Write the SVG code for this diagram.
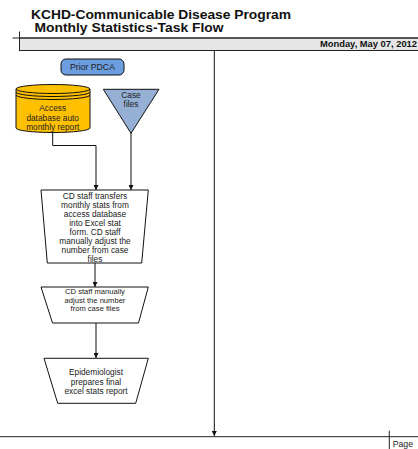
<svg xmlns="http://www.w3.org/2000/svg" width="418" height="449" viewBox="0 0 418 449">
<style>
text{font-family:"Liberation Sans",Arial,sans-serif}
.title{font-size:12.2px;font-weight:bold;fill:#111}
.lbl{font-size:8.3px;fill:#222;text-anchor:middle}
.sm{font-size:7.6px}
.shape{stroke:#111;stroke-width:1}
.conn{fill:none;stroke:#111;stroke-width:1}
.ln{stroke:#222;stroke-width:1;fill:none}
</style>
<defs>
<marker id="arr" viewBox="0 0 6 6" refX="6" refY="3" markerWidth="5" markerHeight="5" orient="auto" markerUnits="userSpaceOnUse">
<path d="M0,0 L6,3 L0,6 Z" fill="#111"/>
</marker>
</defs>
<g id="header">
<text class="title" x="31" y="19.3" textLength="260" lengthAdjust="spacingAndGlyphs">KCHD-Communicable Disease Program</text>
<text class="title" x="34.5" y="32" textLength="189" lengthAdjust="spacingAndGlyphs">Monthly Statistics-Task Flow</text>
<rect x="19.5" y="38" width="400" height="12.5" fill="#e6e6e6" stroke="#222" stroke-width="1"/>
<line class="ln" x1="12.5" y1="38" x2="418" y2="38"/>
<line class="ln" x1="19.5" y1="31.5" x2="19.5" y2="50.5"/>
<text x="320" y="46.8" style="font-size:9px;font-weight:bold;fill:#111" textLength="97" lengthAdjust="spacingAndGlyphs">Monday, May 07, 2012</text>
</g>
<g id="frame">
<line class="ln" x1="0" y1="436.7" x2="418" y2="436.7"/>
<line class="ln" x1="389.3" y1="430.7" x2="389.3" y2="449"/>
<text x="392.7" y="446.8" style="font-size:8.7px;fill:#222">Page</text>
</g>
<g id="connectors">
<path class="conn" d="M214.3,50.5 V436" marker-end="url(#arr)"/>
<path class="conn" d="M52.7,132 V145.5 H96 V190" marker-end="url(#arr)"/>
<path class="conn" d="M131,133 V190" marker-end="url(#arr)"/>
<path class="conn" d="M95,263 V287" marker-end="url(#arr)"/>
<path class="conn" d="M96,323 V358" marker-end="url(#arr)"/>
</g>
<g id="prior-pdca">
<rect class="shape" x="61" y="59" width="63" height="16" rx="5" ry="5" fill="#6b9ddf" stroke="#1f2f55"/>
<text class="lbl" x="92.5" y="69.5" style="font-size:8.7px">Prior PDCA</text>
</g>
<g id="access-db">
<path class="shape" d="M16,89 V128 A37,4.5 0 0 0 90,128 V89 A37,4.5 0 0 0 16,89 Z" fill="#ffc000"/>
<path class="shape" d="M16,89 A37,4.5 0 0 0 90,89" fill="none"/>
<path class="shape" d="M16,92 A37,4.5 0 0 0 90,92" fill="none"/>
<path class="shape" d="M16,95 A37,4.5 0 0 0 90,95" fill="none"/>
<text class="lbl" x="52.7" y="111.3">Access</text>
<text class="lbl" x="52.7" y="120.5">database auto</text>
<text class="lbl" x="52.7" y="129.5">monthly report</text>
</g>
<g id="case-files">
<polygon class="shape" points="103.3,89.3 159,89.3 131,133.3" fill="#95afd5"/>
<text class="lbl" x="131" y="98">Case</text>
<text class="lbl" x="131" y="107">files</text>
</g>
<g id="transfer">
<polygon class="shape" points="41,190 148.3,190 141.7,263 47.3,263" fill="#fff"/>
<text class="lbl" x="95" y="199">CD staff transfers</text>
<text class="lbl" x="95" y="208">monthly stats from</text>
<text class="lbl" x="95" y="217">access database</text>
<text class="lbl" x="95" y="226">into Excel stat</text>
<text class="lbl" x="95" y="235.2">form. CD staff</text>
<text class="lbl" x="95" y="244.2">manually adjust the</text>
<text class="lbl" x="95" y="253">number from case</text>
<text class="lbl" x="95" y="261.5">files</text>
</g>
<g id="adjust">
<polygon class="shape" points="41,287 148.3,287 138.5,323 52.5,323" fill="#fff"/>
<text class="lbl sm" x="95" y="294.3">CD staff manually</text>
<text class="lbl sm" x="95" y="302.8">adjust the number</text>
<text class="lbl sm" x="95" y="311.3">from case files</text>
</g>
<g id="final-report">
<polygon class="shape" points="44,358.3 148.3,358.3 135.7,403.3 57.7,403.3" fill="#fff"/>
<text class="lbl" x="96" y="375.3">Epidemiologist</text>
<text class="lbl" x="96" y="384.6">prepares final</text>
<text class="lbl" x="96" y="393.7">excel stats report</text>
</g>
</svg>
